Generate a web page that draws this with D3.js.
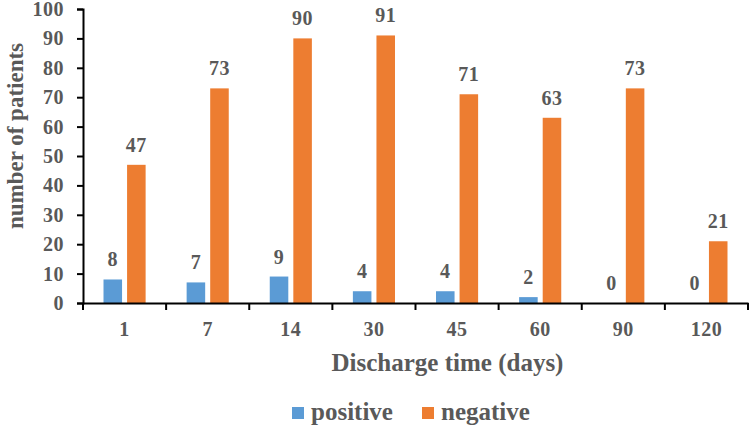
<!DOCTYPE html>
<html><head><meta charset="utf-8">
<script src="https://cdn.jsdelivr.net/npm/d3@7"></script>
<style>body{margin:0;background:#fff}svg{display:block}</style>
</head><body>
<svg id="c" width="750" height="430"></svg>
<script>
const categories = ["1","7","14","30","45","60","90","120"];
const positive = [8,7,9,4,4,2,0,0];
const negative = [47,73,90,91,71,63,73,21];
const yTicks = [0,10,20,30,40,50,60,70,80,90,100];
const seriesNames = ["positive","negative"];
const colors = ["#5B9BD5","#ED7D31"];

const svg = d3.select("#c");
const m = {left:83, right:748, top:9, bottom:303};
const font = "'Liberation Serif','Times New Roman',serif";
const txt = "#595959";

const x = d3.scaleBand().domain(categories).range([m.left, m.right]);
const xs = d3.scaleBand().domain(seriesNames).range([0, x.bandwidth()]).paddingInner(0.213).paddingOuter(0.87);
const y = d3.scaleLinear().domain([0,100]).range([m.bottom, m.top]);

const data = categories.map((c,i)=>({c, vals:[positive[i], negative[i]]}));

const g = svg.append("g");
data.forEach(d=>{
  d.vals.forEach((v,j)=>{
    const s = seriesNames[j];
    g.append("rect")
      .attr("x", x(d.c)+xs(s)).attr("width", xs.bandwidth())
      .attr("y", y(v)).attr("height", y(0)-y(v))
      .attr("fill", colors[j]);
    g.append("text")
      .attr("x", x(d.c)+xs(s)+xs.bandwidth()/2)
      .attr("y", y(v)-13)
      .attr("text-anchor","middle")
      .attr("font-family", font).attr("font-weight","bold").attr("font-size",20)
      .attr("letter-spacing",0.5)
      .attr("fill", txt).text(v);
  });
});

// y axis
const ya = svg.append("g").attr("transform",`translate(${m.left},0)`)
  .call(d3.axisLeft(y).tickValues(yTicks).tickSize(6).tickPadding(13));
ya.select(".domain").attr("stroke","#000").attr("stroke-width",2);
ya.selectAll(".tick line").attr("stroke","#000").attr("stroke-width",2);
ya.selectAll(".tick text").attr("font-family",font).attr("font-weight","bold").attr("font-size",20)
  .attr("letter-spacing",0.5).attr("fill",txt);

// x axis
const xa = svg.append("g").attr("transform",`translate(0,${m.bottom})`)
  .call(d3.axisBottom(x).tickSize(0).tickPadding(19));
xa.select(".domain").attr("stroke","#000").attr("stroke-width",2);
xa.selectAll(".tick text").attr("font-family",font).attr("font-weight","bold").attr("font-size",20)
  .attr("letter-spacing",0.5).attr("fill",txt);
// boundary ticks
const bounds = categories.map(c=>x(c)).concat([m.right]);
xa.selectAll(".bt").data(bounds).enter().append("line")
  .attr("x1",d=>d).attr("x2",d=>d).attr("y1",0).attr("y2",7)
  .attr("stroke","#000").attr("stroke-width",2);

// axis titles
svg.append("text").attr("x",(m.left+m.right)/2+32).attr("y",371)
  .attr("text-anchor","middle").attr("font-family",font).attr("font-weight","bold")
  .attr("font-size",25).attr("fill",txt).text("Discharge time (days)");
svg.append("text").attr("transform",`translate(23,136) rotate(-90)`)
  .attr("text-anchor","middle").attr("font-family",font).attr("font-weight","bold")
  .attr("font-size",23).attr("fill",txt).text("number of patients");

// legend
const lg = svg.append("g");
const lx = [292, 422];
seriesNames.forEach((s,j)=>{
  lg.append("rect").attr("x",lx[j]).attr("y",407).attr("width",12).attr("height",12).attr("fill",colors[j]);
  lg.append("text").attr("x",lx[j]+19).attr("y",420).attr("font-family",font).attr("font-weight","bold")
    .attr("font-size",25).attr("fill",txt).text(s);
});
</script>
</body></html>
